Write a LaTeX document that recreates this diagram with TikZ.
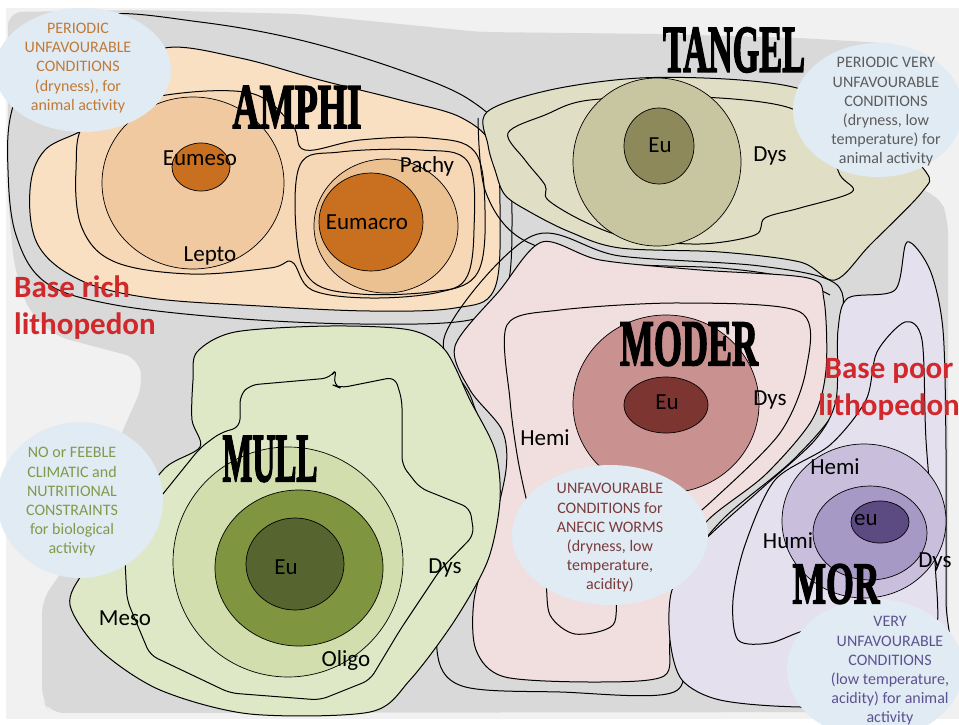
\documentclass[tikz,border=0pt]{standalone}
\usepackage{fontspec}
\setmainfont{Carlito}
\newfontfamily\humusfont[BoldFeatures={FakeBold=3}]{Liberation Serif}
\definecolor{bglight}{HTML}{F1F1F1}
\definecolor{bggray}{HTML}{D9D9D9}
\definecolor{amphione}{HTML}{F9E0C3}
\definecolor{amphitwo}{HTML}{F6D8B6}
\definecolor{amphicircle}{HTML}{F0C9A1}
\definecolor{amphiring}{HTML}{ECC192}
\definecolor{amphidark}{HTML}{C8701F}
\definecolor{tangelone}{HTML}{E0DFC6}
\definecolor{tangelcircle}{HTML}{C8C6A0}
\definecolor{tangeldark}{HTML}{8D895A}
\definecolor{moderone}{HTML}{F1DEDE}
\definecolor{modercircle}{HTML}{C9918F}
\definecolor{moderdark}{HTML}{7C3531}
\definecolor{morone}{HTML}{E5E0EE}
\definecolor{morcircle}{HTML}{C9BFDC}
\definecolor{mormid}{HTML}{A799C6}
\definecolor{mordark}{HTML}{5C4B82}
\definecolor{mullone}{HTML}{DFE8C6}
\definecolor{mullcircle}{HTML}{D2DEAD}
\definecolor{mullmid}{HTML}{7F953F}
\definecolor{mulldark}{HTML}{566530}
\definecolor{bubblefill}{HTML}{E0EBF4}
\definecolor{basered}{HTML}{D0282B}
\definecolor{notebrown}{HTML}{C17A36}
\definecolor{notegray}{HTML}{5C5C5C}
\definecolor{notegreen}{HTML}{7E9B4B}
\definecolor{notered}{HTML}{7A3B3B}
\definecolor{notepurple}{HTML}{5E5290}
\newcommand{\humus}[3]{\resizebox{#1pt}{#2pt}{\humusfont\bfseries #3}}

\begin{document}
\begin{tikzpicture}[x=1pt,y=-1pt,
    contour/.style={draw=black,line width=1pt},
    ring/.style={draw=black,line width=0.7pt},
    lbl/.style={inner sep=0pt,font=\fontsize{23}{25}\selectfont},
    note/.style={inner sep=0pt,align=center,font=\fontsize{16}{19.2}\selectfont},
    base/.style={inner sep=0pt,text=basered,font=\fontsize{31}{37}\selectfont\bfseries},
    humus/.style={inner sep=0pt}]
    \useasboundingbox (0,0) rectangle (959,725);
    \clip (0,0) rectangle (959,725);
    %background
    \fill[white] (0,0) rectangle (959,725);
    \fill[bglight] (6,8) rectangle (959,719);
    \fill[bggray,rounded corners=14pt] (8,12) -- (140,10) -- (300,14) -- (480,32) -- (660,34) -- (800,38) -- (900,44) -- (918,190) -- (940,196) -- (948,220) -- (948,700) -- (938,712) -- (50,713) -- (42,700) -- (42,600) -- (70,560) -- (123,430) -- (143,385) -- (138,358) -- (100,348) -- (55,336) -- (28,310) -- (14,265) -- (8,200) -- cycle;
    %AMPHI
    \draw[contour] plot[smooth cycle,tension=0.6] coordinates {(100,15) (200,22) (300,40) (400,70) (470,100) (505,140) (512,220) (505,295) (470,320) (360,324) (230,318) (110,304) (45,282) (16,235) (8,170) (12,110) (40,50)};
    \draw[contour,fill=amphione] plot[smooth cycle,tension=0.6] coordinates {(165,48) (240,58) (320,80) (400,100) (462,118) (494,150) (500,215) (494,290) (455,308) (370,311) (260,306) (150,298) (80,280) (38,245) (30,190) (45,150) (90,125) (125,80)};
    \draw[contour,fill=amphitwo] plot[smooth cycle,tension=0.6] coordinates {(88,120) (160,96) (250,93) (292,125) (305,150) (360,140) (430,138) (475,152) (485,210) (478,272) (440,292) (370,298) (312,290) (292,262) (270,268) (190,274) (115,262) (82,228) (76,170)};
    \draw[contour,fill=amphitwo] plot[smooth cycle,tension=0.6] coordinates {(300,165) (340,152) (420,150) (468,162) (474,230) (465,280) (430,292) (360,294) (313,282) (297,240)};
    \draw[ring,fill=amphicircle] (193,183) ellipse [x radius=91,y radius=86];
    \draw[ring,fill=amphidark] (201,167) ellipse [x radius=29,y radius=24];
    \draw[ring,fill=amphiring] (386,226) ellipse [x radius=72,y radius=67];
    \draw[ring,fill=amphidark] (371,222) ellipse [x radius=52,y radius=49];
    %TANGEL
    \draw[contour] plot[smooth,tension=0.55] coordinates {(478,118) (485,190) (520,238) (600,262) (720,268) (790,278) (830,295)};
    \draw[contour,fill=tangelone] plot[smooth cycle,tension=0.55] coordinates {(487,112) (550,90) (640,78) (740,80) (810,92) (880,130) (926,172) (922,192) (870,245) (835,280) (800,262) (720,252) (620,248) (570,232) (530,212) (505,195) (495,170) (488,145)};
    \draw[contour] plot[smooth cycle,tension=0.55] coordinates {(508,133) (545,115) (590,100) (700,97) (790,108) (825,140) (840,175) (852,192) (800,208) (765,218) (755,235) (700,244) (630,238) (585,222) (548,200) (545,185) (525,160)};
    \draw[ring,fill=tangelcircle] (657,162) circle [radius=84];
    \draw[ring,fill=tangeldark] (659,146) ellipse [x radius=35,y radius=38];
    %MODER
    \draw[contour] plot[smooth cycle,tension=0.55] coordinates {(445,335) (532,236) (620,256) (760,266) (836,284) (842,330) (840,400) (795,458) (722,520) (688,570) (680,640) (674,692) (560,692) (462,686) (437,650) (452,580) (488,470) (472,400)};
    \draw[contour,fill=moderone] plot[smooth cycle,tension=0.5] coordinates {(542,242) (600,260) (700,270) (808,278) (824,300) (826,370) (812,420) (765,475) (708,520) (678,565) (670,640) (664,676) (600,682) (505,677) (476,650) (474,600) (490,540) (506,470) (502,430) (470,390) (455,346) (500,290)};
    \draw[contour] plot[smooth cycle,tension=0.5] coordinates {(507,325) (560,310) (680,303) (800,312) (806,370) (780,433) (713,500) (660,545) (620,585) (613,625) (575,634) (550,615) (545,575) (530,515) (518,460) (510,400)};
    \draw[ring,fill=modercircle] (666,404) ellipse [x radius=93,y radius=89];
    \draw[ring,fill=moderdark] (666,405) ellipse [x radius=42,y radius=28];
    %MOR
    \draw[contour,fill=morone] plot[smooth cycle,tension=0.5] coordinates {(907,242) (930,270) (943,330) (946,450) (946,600) (946,705) (800,707) (720,700) (682,680) (670,640) (672,590) (700,545) (760,490) (815,440) (836,400) (838,330) (848,298) (895,290)};
    \draw[contour] plot[smooth cycle,tension=0.5] coordinates {(877,352) (905,322) (922,340) (926,440) (935,560) (932,640) (860,625) (807,630) (770,643) (738,640) (733,600) (745,545) (775,480) (830,445) (866,400)};
    \draw[ring,fill=morcircle] (864,521) ellipse [x radius=82,y radius=77];
    \draw[ring,fill=mormid] (870,533) ellipse [x radius=57,y radius=47];
    \draw[ring,fill=mordark] (880,522) ellipse [x radius=29,y radius=21];
    %MULL
    \draw[contour,fill=mullone] plot[smooth cycle,tension=0.5] coordinates {(197,352) (235,332) (330,326) (410,330) (445,350) (470,400) (495,450) (500,500) (488,560) (455,620) (410,680) (370,712) (250,714) (160,690) (100,650) (70,605) (85,570) (130,515) (165,468) (200,447) (192,420) (193,380)};
    \draw[contour,rounded corners=8pt] (240,427) -- (240,395) -- (250,385) -- (330,378) -- (337,368) -- (333,385) -- (340,388) -- (395,377) -- (402,400) -- (402,465) -- (420,488) -- (470,508) -- (474,535) -- (440,570) -- (400,630) -- (370,680) -- (320,700) -- (230,693) -- (150,655) -- (127,600) -- (125,560) -- (150,510) -- (200,448) -- (220,433) -- cycle;
    \draw[ring,fill=mullcircle] (288,562) circle [radius=115];
    \draw[ring,fill=mullmid] (299,568) ellipse [x radius=84,y radius=78];
    \draw[ring,fill=mulldark] (295,564) ellipse [x radius=49,y radius=46];
    %bubbles
    \fill[bubblefill] (83,70) ellipse [x radius=88,y radius=62];
    \fill[bubblefill] (878,110) ellipse [x radius=85,y radius=67];
    \fill[bubblefill] (80,500) ellipse [x radius=83,y radius=78];
    \fill[bubblefill] (610,535) ellipse [x radius=98,y radius=70];
    \fill[bubblefill] (875,669) ellipse [x radius=88,y radius=70];
    \node[note,text=notebrown] (n1) at (78,68) {PERIODIC\\UNFAVOURABLE\\CONDITIONS\\(dryness), for\\animal activity};
    \node[note,text=notegray] (n2) at (886,112) {PERIODIC VERY\\UNFAVOURABLE\\CONDITIONS\\(dryness, low\\temperature) for\\animal activity};
    \node[note,text=notegreen] (n3) at (72,502) {NO or FEEBLE\\CLIMATIC and\\NUTRITIONAL\\CONSTRAINTS\\for biological\\activity};
    \node[note,text=notered] (n4) at (610,538) {UNFAVOURABLE\\CONDITIONS for\\ANECIC WORMS\\(dryness, low\\temperature,\\acidity)};
    \node[note,text=notepurple] (n5) at (890,671) {VERY\\UNFAVOURABLE\\CONDITIONS\\(low temperature,\\acidity) for animal\\activity};
    %lithopedon
    \node[base,anchor=north west,align=left] (rich) at (14,276) {Base rich\\lithopedon};
    \node[base,anchor=north,align=center] (poor) at (889,358) {Base poor\\lithopedon};
    %labels
    \node[lbl] (eumeso) at (200,158) {Eumeso};
    \node[lbl] (lepto) at (210,256) {Lepto};
    \node[lbl] (pachy) at (427,166) {Pachy};
    \node[lbl] (eumacro) at (367,222) {Eumacro};
    \node[lbl] (teu) at (660,145) {Eu};
    \node[lbl] (tdys) at (770,156) {Dys};
    \node[lbl] (meu) at (667,402) {Eu};
    \node[lbl] (mdys) at (770,400) {Dys};
    \node[lbl] (mhemi) at (545,438) {Hemi};
    \node[lbl] (rhemi) at (835,467) {Hemi};
    \node[lbl] (reu) at (866,520) {eu};
    \node[lbl] (rhumi) at (788,541) {Humi};
    \node[lbl] (rdys) at (935,562) {Dys};
    \node[lbl] (geu) at (286,567) {Eu};
    \node[lbl] (gdys) at (445,568) {Dys};
    \node[lbl] (gmeso) at (125,618) {Meso};
    \node[lbl] (goligo) at (346,660) {Oligo};
    %humus forms
    \node[humus] (amphi) at (297,107) {\humus{129}{42}{AMPHI}};
    \node[humus] (tangel) at (734,50) {\humus{142}{44}{TANGEL}};
    \node[humus] (moder) at (689,344) {\humus{138}{43}{MODER}};
    \node[humus] (mull) at (270,459) {\humus{95}{45}{MULL}};
    \node[humus] (mor) at (836,584) {\humus{87}{39}{MOR}};
\end{tikzpicture}
\end{document}
